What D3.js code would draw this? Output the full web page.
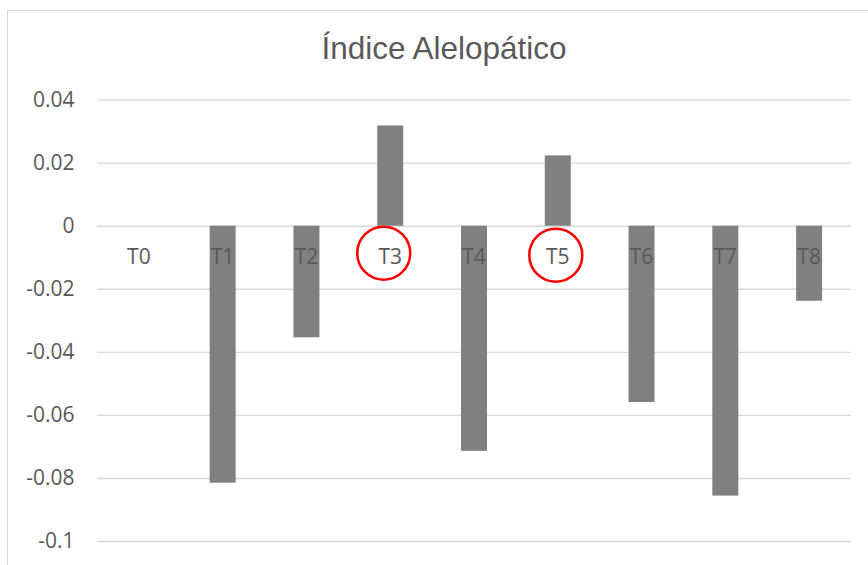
<!DOCTYPE html>
<html>
<head>
<meta charset="utf-8">
<script src="https://cdn.jsdelivr.net/npm/d3@7"></script>
<style>
  html, body { margin: 0; padding: 0; background: #fff; }
  svg { display: block; }
</style>
</head>
<body>
<svg id="chart" width="868" height="565"></svg>
<script>
const title = "Índice Alelopático";
const categories = ["T0", "T1", "T2", "T3", "T4", "T5", "T6", "T7", "T8"];
const values = [0, -0.0815, -0.0354, 0.0318, -0.0714, 0.0223, -0.0559, -0.0856, -0.0238];
const yTicks = [0.04, 0.02, 0, -0.02, -0.04, -0.06, -0.08, -0.1];
const yTickLabels = ["0.04", "0.02", "0", "-0.02", "-0.04", "-0.06", "-0.08", "-0.1"];
const circled = ["T3", "T5"];

(function () {
const svg = d3.select("#chart");
const plotLeft = 97, plotRight = 851, plotTop = 99.6, plotBottom = 541;

// chart border
svg.append("rect")
  .attr("x", 7.5).attr("y", 10.5)
  .attr("width", 900).attr("height", 600)
  .attr("fill", "#fff").attr("stroke", "#d9d9d9").attr("stroke-width", 1);

const x = d3.scaleBand().domain(categories).range([plotLeft, plotRight]).padding(0);
const y = d3.scaleLinear().domain([-0.1, 0.04]).range([plotBottom, plotTop]);

// title
svg.append("text")
  .attr("x", 444).attr("y", 59)
  .attr("text-anchor", "middle")
  .attr("font-family", "Liberation Sans, Arial, sans-serif")
  .attr("font-size", 31.5)
  .attr("fill", "#595959")
  .text(title);

// gridlines
const grid = svg.append("g")
  .attr("transform", `translate(${plotLeft},0)`)
  .call(d3.axisLeft(y).tickValues(yTicks).tickSize(-(plotRight - plotLeft)).tickFormat(""));
grid.select(".domain").remove();
grid.selectAll("line").attr("stroke", "#d9d9d9").attr("stroke-width", 1.4);

// y tick labels
const yAxis = svg.append("g")
  .attr("transform", `translate(74.5,0)`)
  .call(d3.axisLeft(y).tickValues(yTicks).tickSize(0).tickPadding(0)
    .tickFormat((d, i) => yTickLabels[i]));
yAxis.select(".domain").remove();
yAxis.selectAll("text")
  .attr("font-family", "Open Sans, sans-serif")
  .attr("font-size", 21)
  .attr("fill", "#595959");

// bars
const barW = 26;
const bw = x.bandwidth();
svg.append("g").selectAll("rect")
  .data(categories.map((c, i) => ({ c, v: values[i] })))
  .join("rect")
  .attr("x", d => x(d.c) + bw / 2 - barW / 2)
  .attr("width", barW)
  .attr("y", d => Math.min(y(d.v), y(0)))
  .attr("height", d => Math.abs(y(d.v) - y(0)))
  .attr("fill", "#808080");

// category labels (drawn over bars)
const xAxis = svg.append("g")
  .attr("transform", `translate(0,${y(0)})`)
  .call(d3.axisBottom(x).tickSize(0).tickPadding(0));
xAxis.select(".domain").remove();
xAxis.selectAll("text")
  .attr("dy", null)
  .attr("y", 38.5)
  .attr("font-family", "Open Sans, sans-serif")
  .attr("font-size", 21)
  .attr("fill", "#595959");

// red circle annotations
const circOffset = { T3: [-6.5, 27.5], T5: [-2, 29.5] };
svg.append("g").selectAll("circle")
  .data(circled)
  .join("circle")
  .attr("cx", d => x(d) + bw / 2 + circOffset[d][0])
  .attr("cy", d => y(0) + circOffset[d][1])
  .attr("r", 26.5)
  .attr("fill", "none")
  .attr("stroke", "#ff0000")
  .attr("stroke-width", 2.5);
})();
</script>
</body>
</html>
